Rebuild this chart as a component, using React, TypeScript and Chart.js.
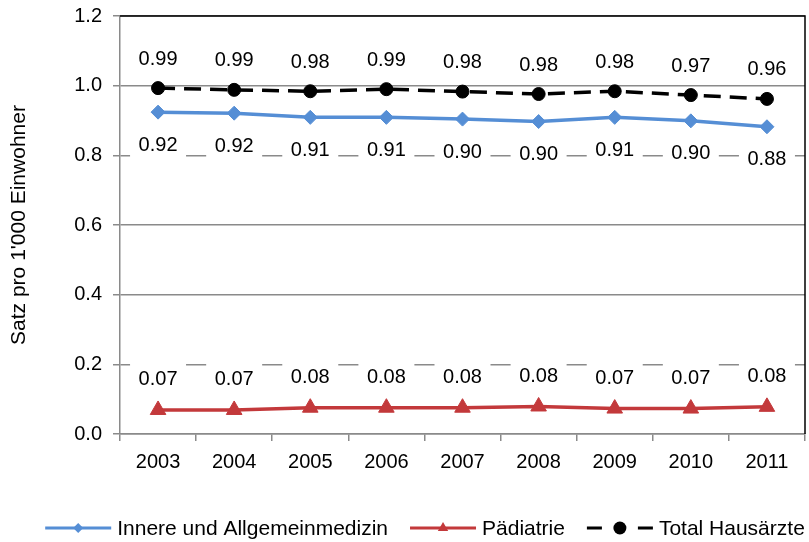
import React, { useEffect, useRef } from 'react';
import { Chart, registerables } from 'chart.js';

Chart.register(...registerables);

// ---- data ----
const years = ['2003', '2004', '2005', '2006', '2007', '2008', '2009', '2010', '2011'];
const innere = [0.924, 0.921, 0.909, 0.909, 0.904, 0.897, 0.909, 0.899, 0.882];
const paediatrie = [0.069, 0.069, 0.0755, 0.0755, 0.0755, 0.079, 0.073, 0.073, 0.078];
const total = [0.993, 0.988, 0.984, 0.99, 0.983, 0.976, 0.984, 0.973, 0.962];
const seriesNames = ['Innere und Allgemeinmedizin', 'Pädiatrie', 'Total Hausärzte'];
const yAxisTitle = "Satz pro 1'000 Einwohner";

const FONT = '"Liberation Sans", Arial, Helvetica, sans-serif';
const BLUE = '#558ED5';
const RED = '#C3393B';
const GRID = '#8A8A8A';

const valueLabels = {
  id: 'valueLabels',
  beforeDatasetsDraw(chart: any) {
    const ctx = chart.ctx;
    ctx.save();
    ctx.font = `20px ${FONT}`;
    ctx.textAlign = 'center';
    ctx.textBaseline = 'middle';
    chart.data.datasets.forEach((ds: any, di: number) => {
      const meta = chart.getDatasetMeta(di);
      const off = ds.labelOffset || 0;
      meta.data.forEach((el: any, i: number) => {
        const v = ds.data[i] as number;
        const x = el.x;
        const y = el.y + off;
        ctx.fillStyle = '#ffffff';
        ctx.fillRect(x - 28, y - 18, 56, 31);
        ctx.fillStyle = '#000000';
        ctx.fillText(v.toFixed(2), x, y);
      });
    });
    ctx.restore();
  },
};

const frame = {
  id: 'frame',
  afterDatasetsDraw(chart: any) {
    const { ctx, chartArea } = chart;
    ctx.save();
    ctx.strokeStyle = '#000';
    ctx.lineWidth = 1.5;
    ctx.beginPath();
    ctx.moveTo(chartArea.left, chartArea.top);
    ctx.lineTo(chartArea.right, chartArea.top);
    ctx.lineTo(chartArea.right, chartArea.bottom);
    ctx.stroke();
    ctx.restore();
  },
};

function drawMarker(ctx: CanvasRenderingContext2D, style: string, x: number, y: number, r: number, color: string) {
  ctx.fillStyle = color;
  ctx.beginPath();
  if (style === 'rectRot') {
    ctx.moveTo(x - r, y);
    ctx.lineTo(x, y - r);
    ctx.lineTo(x + r, y);
    ctx.lineTo(x, y + r);
    ctx.closePath();
  } else if (style === 'triangle') {
    const h = r * 1.5;
    const s = r * Math.sqrt(3) / 2;
    ctx.moveTo(x, y - r);
    ctx.lineTo(x + s, y - r + h);
    ctx.lineTo(x - s, y - r + h);
    ctx.closePath();
  } else {
    ctx.arc(x, y, r, 0, Math.PI * 2);
  }
  ctx.fill();
}

const lineLegend = {
  id: 'lineLegend',
  afterDraw(chart: any) {
    const ctx = chart.ctx;
    ctx.save();
    ctx.font = `21px ${FONT}`;
    ctx.textBaseline = 'middle';
    ctx.textAlign = 'left';
    const lineLen = 66;
    const gapText = 6;
    const gapItem = 22;
    const dss = chart.data.datasets;
    const widths = dss.map((ds: any) => ctx.measureText(ds.label).width);
    const totalW = widths.reduce((s: number, w: number) => s + lineLen + gapText + w, 0) + gapItem * (dss.length - 1);
    let x = 425 - totalW / 2;
    const y = 528;
    dss.forEach((ds: any, i: number) => {
      ctx.strokeStyle = ds.borderColor;
      ctx.lineWidth = 3;
      ctx.beginPath();
      if (ds.borderDash && ds.borderDash.length) {
        ctx.moveTo(x, y);
        ctx.lineTo(x + 15, y);
        ctx.moveTo(x + lineLen - 15, y);
        ctx.lineTo(x + lineLen, y);
      } else {
        ctx.moveTo(x, y);
        ctx.lineTo(x + lineLen, y);
      }
      ctx.stroke();
      drawMarker(ctx, ds.pointStyle, x + lineLen / 2, y, ds.legendMarkerRadius, ds.pointBackgroundColor);
      ctx.fillStyle = '#000';
      ctx.fillText(ds.label, x + lineLen + gapText, y + 1);
      x += lineLen + gapText + widths[i] + gapItem;
    });
    ctx.restore();
  },
};

export default function App() {
  const ref = useRef<HTMLCanvasElement | null>(null);

  useEffect(() => {
    if (!ref.current) return;
    Chart.defaults.font.family = FONT;
    Chart.defaults.color = '#000';
    const chart = new Chart(ref.current, {
      type: 'line',
      data: {
        labels: years,
        datasets: [
          {
            label: seriesNames[0],
            data: innere,
            borderColor: BLUE,
            backgroundColor: BLUE,
            pointBackgroundColor: BLUE,
            pointBorderColor: BLUE,
            pointStyle: 'rectRot',
            pointRadius: 7,
            pointBorderWidth: 1,
            borderWidth: 3.5,
            tension: 0,
            labelOffset: 33,
            legendMarkerRadius: 5,
          } as any,
          {
            label: seriesNames[1],
            data: paediatrie,
            borderColor: RED,
            backgroundColor: RED,
            pointBackgroundColor: RED,
            pointBorderColor: RED,
            pointStyle: 'triangle',
            pointRadius: 9,
            pointBorderWidth: 1,
            borderWidth: 3.5,
            tension: 0,
            labelOffset: -30,
            legendMarkerRadius: 6,
          } as any,
          {
            label: seriesNames[2],
            data: total,
            borderColor: '#000',
            backgroundColor: '#000',
            pointBackgroundColor: '#000',
            pointBorderColor: '#000',
            pointStyle: 'circle',
            pointRadius: 6.5,
            pointBorderWidth: 1,
            borderWidth: 3.5,
            borderDash: [17, 9],
            tension: 0,
            labelOffset: -29,
            legendMarkerRadius: 6.5,
          } as any,
        ],
      },
      options: {
        animation: false,
        responsive: false,
        devicePixelRatio: 1,
        layout: { autoPadding: false, padding: { top: 16, right: 4, bottom: 0, left: 0 } },
        plugins: {
          legend: { display: false },
          tooltip: { enabled: false },
        },
        scales: {
          x: {
            type: 'category',
            offset: true,
            afterFit: (scale: any) => {
              scale.height = 108;
              scale.paddingLeft = 0;
              scale.paddingRight = 0;
            },
            grid: {
              display: true,
              drawOnChartArea: false,
              drawTicks: true,
              tickLength: 7,
              offset: true,
              color: GRID,
              lineWidth: 1.5,
            },
            border: { display: true, color: GRID, width: 1.5 },
            ticks: { font: { size: 20 }, color: '#000', padding: 9, maxRotation: 0 },
          },
          y: {
            min: 0,
            max: 1.2,
            afterFit: (scale: any) => {
              scale.width = 120;
              scale.paddingTop = 0;
              scale.paddingBottom = 0;
            },
            ticks: {
              stepSize: 0.2,
              font: { size: 20 },
              color: '#000',
              padding: 11,
              callback: (v: any) => Number(v).toFixed(1),
            },
            grid: { color: GRID, lineWidth: 1.5, tickLength: 7, drawTicks: true },
            border: { display: true, color: GRID, width: 1.5 },
            title: {
              display: true,
              text: yAxisTitle,
              font: { size: 21 },
              color: '#000',
              padding: { top: 7, bottom: 0 },
            },
          },
        },
      },
      plugins: [valueLabels, frame, lineLegend],
    });
    return () => chart.destroy();
  }, []);

  return (
    <div style={{ position: 'absolute', left: 0, top: 0, width: 809, height: 542, background: '#fff' }}>
      <canvas ref={ref} width={809} height={542} />
    </div>
  );
}
